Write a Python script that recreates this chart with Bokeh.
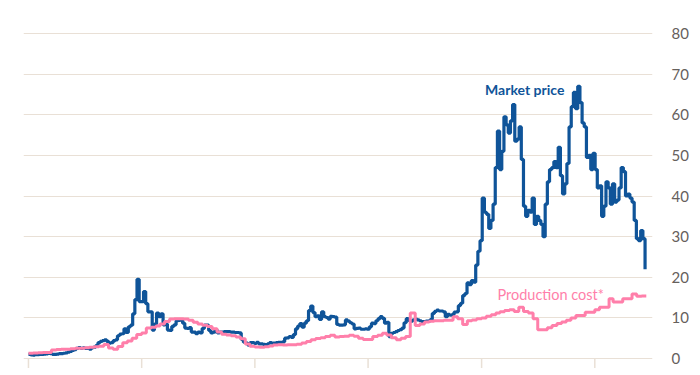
import pandas as pd
from bokeh.plotting import figure
from bokeh.models import FixedTicker, Range1d, ColumnDataSource
from bokeh.core.properties import value
from bokeh.embed import file_html
from bokeh.resources import INLINE

# ---- data ($'000) ----
price_2017 = [1.0, 0.9, 0.85, 0.92, 0.95,
              1.0, 1.0, 1.05, 1.15,
              1.25, 1.2, 1.0, 1.0,
              1.1, 1.2, 1.2, 1.3, 1.4,
              1.55, 1.75, 2.0, 2.2,
              2.5, 2.7, 2.5, 2.6,
              2.5, 2.5, 2.3, 2.7, 2.8,
              3.2, 3.9, 4.2, 4.4,
              4.6, 4.2, 3.8, 3.9,
              4.4, 4.6, 5.6, 6.0, 6.1,
              7.3, 6.4, 7.8, 8.2,
              11.0, 14.5, 19.5, 14.0, 14.0]
price_2018 = [16.5, 13.5, 11.5, 11.5,
              7.0, 8.5, 11.2, 10.3,
              11.0, 8.3, 8.5, 7.0,
              6.9, 7.9, 8.3, 9.3, 9.4,
              9.6, 8.7, 7.5, 7.4,
              7.6, 6.5, 6.5, 6.1,
              6.5, 6.3, 7.4, 8.2, 8.2,
              6.9, 6.3, 6.5, 7.0,
              6.3, 6.5, 6.5, 6.6, 6.6,
              6.6, 6.5, 6.5, 6.4,
              6.4, 6.3, 4.7, 4.0,
              3.8, 3.3, 3.9, 3.9, 3.7]
price_2019 = [4.0, 3.6, 3.6, 3.5,
              3.4, 3.6, 3.9, 3.8,
              3.8, 3.9, 4.0, 4.0, 4.1,
              5.0, 5.1, 5.4, 5.2,
              5.9, 7.3, 8.0, 8.6,
              7.7, 8.7, 9.3, 11.8, 12.9,
              11.3, 10.3, 10.5, 9.6,
              11.5, 10.3, 10.1, 9.7,
              10.4, 10.3, 10.2, 8.4, 8.2,
              8.2, 8.3, 9.5, 9.2,
              8.8, 8.5, 7.3, 7.4,
              7.5, 7.2, 7.2, 7.3, 7.2]
price_2020 = [7.8, 8.7, 8.6, 9.3,
              9.8, 10.3, 9.9, 8.7,
              8.9, 5.4, 6.2, 6.4, 6.6,
              6.9, 7.1, 7.5, 8.8,
              9.8, 9.4, 9.2, 9.5, 9.7,
              9.5, 9.3, 9.1, 9.1,
              9.2, 9.2, 9.6, 11.1,
              11.6, 11.9, 11.7, 11.7, 11.5,
              10.3, 10.9, 10.7, 10.8,
              11.4, 11.5, 13.0, 13.6,
              15.5, 16.0, 18.6, 18.2, 19.2,
              18.8, 23.0, 26.4, 29.0]
price_2021 = [39.5, 36.0, 35.5, 32.0, 34.0,
              38.0, 47.0, 56.0, 46.5,
              51.0, 59.5, 57.5, 55.5,
              58.5, 62.5, 53.5, 54.0,
              57.0, 49.0, 37.5, 35.0, 36.5,
              36.0, 39.5, 33.0, 35.0,
              34.0, 33.0, 30.0, 38.0,
              43.5, 46.5, 47.0, 48.5, 47.0,
              52.0, 45.0, 40.5, 43.0,
              48.0, 57.0, 62.0, 65.5, 61.5,
              67.0, 63.0, 58.0, 57.0,
              49.5, 50.0, 46.5, 50.5]
price_2022 = [46.5, 42.0, 42.5, 35.0, 37.5,
              43.5, 42.0, 38.0, 43.0,
              38.5, 39.0, 42.0, 47.0,
              46.0, 40.0, 40.5, 39.5,
              38.5, 34.0, 29.5, 29.0, 31.5,
              29.5, 22.0]

# production cost, 1st and 16th of each month
cost_2017 = [1.3, 1.35, 1.4, 1.45, 1.5, 2.1, 2.2, 2.25, 2.3, 2.4, 2.5, 2.55,
             2.65, 2.8, 2.9, 3.0, 3.45, 2.6, 2.3, 2.95, 3.9, 4.3, 5.0, 5.9]
cost_2018 = [6.3, 7.5, 7.7, 8.0, 8.5, 9.1, 9.7, 9.8, 9.8, 9.7, 9.4, 8.9,
             8.5, 8.2, 7.9, 7.3, 6.5, 6.0, 5.8, 5.6, 5.3, 4.85, 3.6, 3.0]
cost_2019 = [2.85, 2.8, 2.9, 3.1, 3.3, 3.4, 3.35, 3.4, 3.4, 3.5, 3.8, 4.2,
             4.6, 4.9, 5.1, 5.4, 5.7, 5.3, 5.4, 5.5, 5.7, 5.5, 5.0, 4.7]
cost_2020 = [4.7, 5.4, 5.7, 6.2, 5.8, 5.1, 4.6, 5.0, 5.4, 11.2, 8.1, 8.5,
             9.0, 9.2, 9.3, 9.3, 9.4, 9.4, 10.3, 9.8, 8.4, 9.3, 9.5, 9.8]
cost_2021 = [10.0, 10.4, 10.8, 11.2, 11.5, 11.8, 12.0, 11.6, 12.6, 11.6, 11.2, 9.8,
             7.1, 7.1, 7.6, 8.1, 8.6, 9.0, 9.4, 10.0, 10.6, 10.6, 11.4, 11.4]
cost_2022 = [12.0, 12.6, 12.6, 14.7, 13.9, 13.9, 14.7, 14.7, 15.9, 15.3, 15.4, 15.4]

tick_years = [2017, 2018, 2019, 2020, 2021, 2022]
y_ticks = [0, 10, 20, 30, 40, 50, 60, 70, 80]

# ---- sources ----
price = price_2017 + price_2018 + price_2019 + price_2020 + price_2021 + price_2022
price_dates = pd.date_range("2017-01-01", periods=len(price), freq="7D")
cost = cost_2017 + cost_2018 + cost_2019 + cost_2020 + cost_2021 + cost_2022
cost_dates = []
for i in range(len(cost)):
    m = i // 2
    cost_dates.append(pd.Timestamp(2017 + m // 12, m % 12 + 1, 1 if i % 2 == 0 else 16))
tick_dates = [pd.Timestamp(f"{y}-01-01") for y in tick_years]

price_src = ColumnDataSource(dict(x=price_dates, y=price))
cost_src = ColumnDataSource(dict(x=cost_dates, y=cost))

BLUE = "#0f5499"
PINK = "#ff7faa"
GRID = "#e9e0d6"
TICK_LEN = 2.46  # tick length below the zero line, in axis units

p = figure(width=700, height=368, x_axis_type="datetime", y_axis_location="right",
           x_range=Range1d(pd.Timestamp("2016-12-16"), pd.Timestamp("2022-07-06")),
           y_range=Range1d(-TICK_LEN, 80.5),
           output_backend="svg", toolbar_location=None,
           min_border_left=23, min_border_right=48, min_border_top=31, min_border_bottom=0)
p.outline_line_color = None
p.background_fill_color = "white"
p.border_fill_color = "white"

p.xaxis.visible = False
p.xgrid.visible = False
p.ygrid.ticker = FixedTicker(ticks=y_ticks)
p.ygrid.grid_line_color = GRID
p.ygrid.grid_line_width = 1

p.yaxis.ticker = FixedTicker(ticks=y_ticks)
p.yaxis.axis_line_color = None
p.yaxis.major_tick_line_color = None
p.yaxis.minor_tick_line_color = None
p.yaxis.major_label_standoff = 13
p.yaxis.major_label_text_font = "Lato"
p.yaxis.major_label_text_font_size = "15px"
p.yaxis.major_label_text_color = "#66605c"

# year ticks hanging below the zero line
p.segment(x0=tick_dates, y0=[0] * len(tick_dates), x1=tick_dates,
          y1=[-TICK_LEN] * len(tick_dates), line_color=GRID, line_width=1.5)

p.step("x", "y", source=price_src, mode="after", line_color=BLUE, line_width=3.2)
p.step("x", "y", source=cost_src, mode="after", line_color=PINK, line_width=3)

p.text(x=[pd.Timestamp("2021-01-12")], y=[66.3], text=["Market price"],
       text_font=value("Lato"), text_font_size="14px", text_font_style="bold",
       text_color=BLUE, text_baseline="middle", text_align="left")
p.text(x=[pd.Timestamp("2021-02-21")], y=[15.8], text=["Production cost*"],
       text_font=value("Lato"), text_font_size="14.5px",
       text_color=PINK, text_baseline="middle", text_align="left")

open("out.html", "w").write(file_html(p, INLINE))
